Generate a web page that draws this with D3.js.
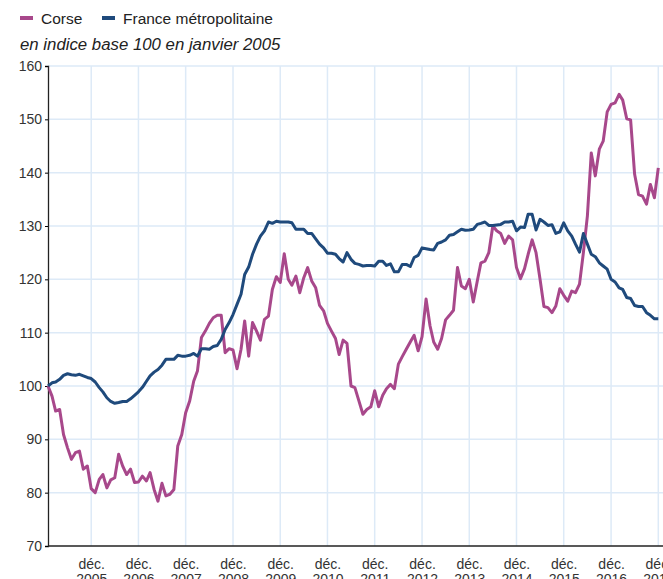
<!DOCTYPE html>
<html>
<head>
<meta charset="utf-8">
<script src="https://cdn.jsdelivr.net/npm/d3@7"></script>
<style>
  body { margin: 0; overflow: hidden; background: #fff; }
  text { font-family: "Liberation Sans", Arial, sans-serif; fill: #222; }
</style>
</head>
<body>
<div id="chart"></div>
<script>
// indices mensuels, janvier 2005 = 100
var corse = [100,98.1,95.3,95.6,90.9,88.4,86.25,87.5,87.8,84.4,85.0,80.75,
  80.0,82.5,83.4,80.9,82.4,82.8,87.2,85.0,83.4,84.4,81.9,82.0,
  83.1,82.2,83.75,80.6,78.4,81.75,79.4,79.7,80.6,88.75,90.9,95.0,
  97.2,100.9,102.8,109.1,110.3,111.75,112.8,113.25,113.25,106.25,107.0,106.75,
  103.25,106.9,112.2,105.6,111.9,110.3,108.6,112.5,113.1,118.1,120.5,119.4,
  124.8,120.0,118.9,120.6,117.5,120.3,122.2,119.7,118.4,115.1,114.1,111.75,
  110.3,108.9,105.9,108.6,108.0,100.0,99.7,97.2,94.7,95.6,96.1,99.1,
  96.1,98.25,99.5,100.3,99.5,104.1,105.5,106.9,108.25,109.5,106.6,109.25,
  116.3,111.25,108.25,106.9,108.9,112.4,113.25,114.2,122.2,118.75,118.25,120.0,
  115.75,119.7,123.1,123.4,125.0,130.0,129.1,128.6,126.75,128.1,127.4,122.2,
  120.1,122.0,124.7,127.4,125.0,120.0,114.9,114.7,113.75,115.0,118.25,117.0,
  115.9,117.8,117.5,119.1,125.0,131.9,143.7,139.4,144.4,145.9,151.4,152.8,
  153.1,154.7,153.6,150.1,149.9,139.7,135.9,135.6,134.1,137.8,135.3,140.9];

var france = [100,100.6,100.75,101.25,102.0,102.3,102.1,102.0,102.2,101.9,101.6,101.4,
  100.75,99.7,98.9,97.8,97.1,96.75,96.9,97.1,97.1,97.6,98.25,98.9,
  99.75,100.9,101.9,102.6,103.1,103.9,105.0,105.0,105.0,105.75,105.6,105.6,
  105.75,106.1,105.6,107.0,107.0,106.9,107.4,107.6,108.75,110.6,111.9,113.4,
  115.3,117.2,120.9,122.3,124.7,126.6,128.1,129.1,130.75,130.5,130.9,130.75,
  130.75,130.75,130.6,129.4,129.4,129.4,128.6,128.6,127.6,126.6,125.9,124.9,
  124.9,124.7,123.9,123.25,125.0,123.75,123.0,122.8,122.5,122.6,122.6,122.5,
  123.4,123.4,122.6,122.9,121.4,121.4,122.8,122.8,122.4,124.1,124.5,125.9,
  125.75,125.6,125.5,126.75,127.0,127.4,128.25,128.4,128.9,129.4,129.2,129.25,
  129.4,130.3,130.5,130.75,130.1,130.1,130.2,130.3,130.75,130.75,130.9,129.1,
  129.8,129.7,132.2,132.2,129.25,131.25,130.75,130.1,130.25,128.6,128.9,130.6,
  129.1,128.1,126.6,125.1,128.6,126.6,124.7,124.25,123.1,122.5,121.9,120.0,
  119.5,118.4,118.1,116.6,116.4,115.1,114.9,114.9,113.75,113.25,112.6,112.6];

var tickYears = [2005,2006,2007,2008,2009,2010,2011,2012,2013,2014,2015,2016,2017];
var yTicks = [70,80,90,100,110,120,130,140,150,160];

var seriesNames = ["Corse", "France métropolitaine"];
var colors = ["#a8488b", "#1f4a7c"];

var width = 700, height = 579;
var margin = {left: 48, top: 66, bottom: 33};

var months = d3.timeMonth.range(new Date(2005, 0, 1), new Date(2018, 0, 1));

var x = d3.scaleTime()
    .domain([months[0], months[months.length - 1]])
    .range([margin.left, 658.3]);
var y = d3.scaleLinear()
    .domain([70, 160])
    .range([height - margin.bottom, margin.top]);

var svg = d3.select("#chart").append("svg")
    .attr("width", width)
    .attr("height", height);

// grille
var grid = svg.append("g");
grid.selectAll("line.h")
    .data(yTicks.slice(1))
    .enter().append("line")
    .attr("x1", margin.left).attr("x2", width)
    .attr("y1", d => y(d)).attr("y2", d => y(d))
    .attr("stroke", "#ddeaf7").attr("stroke-width", 1.5);
grid.selectAll("line.v")
    .data(tickYears)
    .enter().append("line")
    .attr("x1", d => x(new Date(d, 11, 1))).attr("x2", d => x(new Date(d, 11, 1)))
    .attr("y1", margin.top).attr("y2", height - margin.bottom)
    .attr("stroke", "#ddeaf7").attr("stroke-width", 1.5);

// axe Y
var yAxis = svg.append("g")
    .attr("transform", "translate(" + margin.left + ",0)")
    .call(d3.axisLeft(y).tickValues(yTicks).tickSize(3).tickPadding(3));
yAxis.select(".domain").attr("stroke", "#222").attr("stroke-width", 1.3);
yAxis.selectAll("text").attr("font-size", 14).style("fill", "#333");

// axe X
var xAxis = svg.append("g")
    .attr("transform", "translate(0," + y(70) + ")")
    .call(d3.axisBottom(x).tickValues(tickYears.map(d => new Date(d, 11, 1))).tickSize(0).tickFormat(""));
xAxis.select(".domain").attr("stroke", "#222").attr("stroke-width", 1.3)
    .attr("d", "M" + margin.left + ",0H" + width);
var lbl = xAxis.selectAll(".tick").append("text")
    .attr("text-anchor", "middle")
    .attr("font-size", 14)
    .style("fill", "#333");
lbl.append("tspan").attr("x", 0).attr("y", 23).text("déc.");
lbl.append("tspan").attr("x", 0).attr("y", 38).text((d, i) => tickYears[i]);

// courbes
var line = d3.line()
    .x((d, i) => x(months[i]))
    .y(d => y(d));

[corse, france].forEach(function (s, k) {
    svg.append("path")
        .datum(s)
        .attr("fill", "none")
        .attr("stroke", colors[k])
        .attr("stroke-width", 3)
        .attr("stroke-linejoin", "round")
        .attr("d", line);
});

// légende
var legX = [20, 102];
var leg = svg.selectAll("g.leg")
    .data(seriesNames)
    .enter().append("g")
    .attr("transform", (d, i) => "translate(" + legX[i] + ",18)");
leg.append("rect")
    .attr("x", 0).attr("y", -2).attr("width", 13).attr("height", 4)
    .attr("fill", (d, i) => colors[i]);
leg.append("text")
    .attr("x", 21).attr("y", 5.5)
    .attr("font-size", 15.5)
    .text(d => d);

svg.append("text")
    .attr("x", 20).attr("y", 50)
    .attr("font-size", 16.8)
    .attr("font-style", "italic")
    .text("en indice base 100 en janvier 2005");
</script>
</body>
</html>
